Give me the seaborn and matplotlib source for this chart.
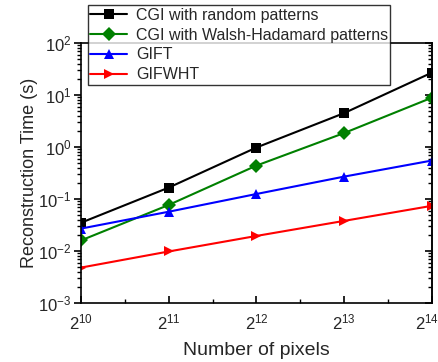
import numpy as np
import pandas as pd
import matplotlib
matplotlib.use('Agg')
import matplotlib.pyplot as plt
import seaborn as sns
from matplotlib.ticker import FixedLocator, LogLocator, NullFormatter
from matplotlib.transforms import ScaledTranslation

# data
pixels = [2**10, 2**11, 2**12, 2**13, 2**14]
methods = ['CGI with random patterns', 'CGI with Walsh-Hadamard patterns', 'GIFT', 'GIFWHT']
cgi_random = [0.035, 0.166, 0.98, 4.5, 27]
cgi_walsh = [0.016, 0.077, 0.44, 1.86, 8.9]
gift = [0.027, 0.057, 0.125, 0.27, 0.55]
gifwht = [0.0048, 0.0098, 0.0195, 0.038, 0.074]
colors = ['black', 'green', 'blue', 'red']
markers = ['s', 'D', '^', '>']

rows = []
for name, vals in zip(methods, [cgi_random, cgi_walsh, gift, gifwht]):
    for p, v in zip(pixels, vals):
        rows.append({'pixels': p, 'time': v, 'method': name})
df = pd.DataFrame(rows)

sns.set_style('white')
plt.rcParams['font.family'] = ['Liberation Sans', 'DejaVu Sans']
plt.rcParams['mathtext.default'] = 'regular'

fig = plt.figure(figsize=(4.38, 3.62), dpi=100)
ax = fig.add_axes([0.185, 0.163, 0.801, 0.718])

sns.lineplot(data=df, x='pixels', y='time', hue='method', style='method',
             hue_order=methods, style_order=methods, palette=colors,
             markers=markers, dashes=False, markersize=7, linewidth=1.5,
             markeredgewidth=0, ax=ax)

ax.set_xscale('log', base=2)
ax.set_yscale('log')
ax.set_xlim(2**10, 2**14)
ax.set_ylim(1e-3, 1e2)
ax.xaxis.set_major_locator(FixedLocator(pixels))
ax.xaxis.set_major_formatter(matplotlib.ticker.FuncFormatter(
    lambda v, _: '$2^{%d}$' % round(np.log2(v))))
ax.xaxis.set_minor_locator(FixedLocator([2**10.5, 2**11.5, 2**12.5, 2**13.5]))
ax.xaxis.set_minor_formatter(NullFormatter())
ax.yaxis.set_minor_locator(LogLocator(base=10, subs=np.arange(2, 10)))
ax.yaxis.set_minor_formatter(NullFormatter())

for s in ax.spines.values():
    s.set_color('black')
    s.set_linewidth(1.2)

ax.tick_params(axis='x', which='both', direction='in', bottom=True, top=False,
               labelsize=12, color='black', pad=7)
ax.tick_params(axis='x', which='major', length=5, width=1.2)
ax.tick_params(axis='x', which='minor', length=3, width=1)
ax.tick_params(axis='y', which='both', direction='out', left=True,
               labelsize=12, color='black', pad=2)
ax.tick_params(axis='y', which='major', length=5, width=1.2)
ax.tick_params(axis='y', which='minor', length=3, width=1)

right = ax.secondary_yaxis('right')
right.yaxis.set_minor_locator(LogLocator(base=10, subs=np.arange(2, 10)))
right.tick_params(axis='y', which='both', direction='in', labelright=False, color='black')
right.tick_params(axis='y', which='major', length=5, width=1.2)
right.tick_params(axis='y', which='minor', length=3, width=1)
right.yaxis.set_minor_formatter(NullFormatter())
right.spines['right'].set_linewidth(1.2)

# last x label nudged left so it stays inside the figure
last = ax.get_xticklabels()[-1]
last.set_transform(last.get_transform() + ScaledTranslation(-0.05, 0, fig.dpi_scale_trans))

ax.set_xlabel('Number of pixels', fontsize=14, labelpad=7)
ax.set_ylabel('Reconstruction Time (s)', fontsize=13, labelpad=0)

leg = ax.legend(loc='upper left', bbox_to_anchor=(0.02, 1.145), fontsize=11.5,
                frameon=True, fancybox=False, edgecolor='black',
                handlelength=2.3, handletextpad=0.55, labelspacing=0.3,
                borderpad=0.15, borderaxespad=0)
leg.get_frame().set_linewidth(1)
leg.set_zorder(10)

fig.savefig('out.png', dpi=100)
